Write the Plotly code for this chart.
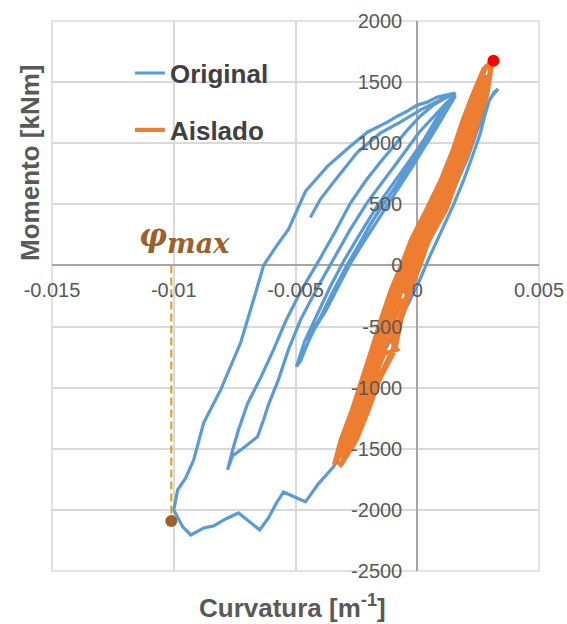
import plotly.graph_objects as go

# ---------------- data ----------------
original_curv = [
    0.00000, 0.00033, 0.00078, 0.00123, 0.00168, 0.00205, 0.00234, 0.00258, 0.00279, 0.00303, 0.00332,
    0.00316, 0.00295, 0.00279, 0.00258, 0.00225, 0.00189, 0.00148, 0.00102, 0.00053, 0.00004,
    -0.00049, -0.00098, -0.00143, -0.00184, -0.00221, -0.00250, -0.00283, -0.00316, -0.00344,
    -0.00406, -0.00459, -0.00504, -0.00549, -0.00578, -0.00611, -0.00647, -0.00684, -0.00734,
    -0.00787, -0.00836, -0.00877, -0.00930, -0.00963, -0.01000,
    -0.00984, -0.00951, -0.00918, -0.00877, -0.00807, -0.00725, -0.00672, -0.00631, -0.00582,
    -0.00529, -0.00459, -0.00369, -0.00275, -0.00205, -0.00123, -0.00082, -0.00041, 0.00000,
    0.00041, 0.00082, 0.00156,
    0.00127, 0.00094, 0.00041, -0.00029, -0.00111, -0.00193, -0.00250, -0.00295, -0.00344,
    -0.00398, -0.00455,
    -0.00434, -0.00377, -0.00324, -0.00279, -0.00234, -0.00172, -0.00094, -0.00016, 0.00053,
    0.00107, 0.00156,
    0.00119, 0.00078, 0.00029, -0.00037, -0.00160, -0.00234, -0.00303, -0.00357, -0.00414,
    -0.00463, -0.00496,
    -0.00479, -0.00447, -0.00398, -0.00344, -0.00287, -0.00217, -0.00148, -0.00029, 0.00045,
    0.00098, 0.00156,
    0.00119, 0.00066, 0.00008, -0.00082, -0.00205, -0.00275, -0.00340, -0.00414, -0.00479,
    -0.00529, -0.00570, -0.00611, -0.00631, -0.00656, -0.00713, -0.00758, -0.00779,
    -0.00770, -0.00758, -0.00734, -0.00697, -0.00643, -0.00590, -0.00541, -0.00479, -0.00406,
    -0.00336, -0.00275, -0.00213, -0.00152, -0.00090, -0.00041, 0.00012, 0.00066, 0.00115, 0.00156,
    0.00094, 0.00012, -0.00070, -0.00152, -0.00246, -0.00344, -0.00398, -0.00439,
]
original_mom = [
    -16, 131, 311, 500, 705, 869, 1033, 1180, 1295, 1377, 1443,
    1418, 1344, 1238, 1074, 885, 689, 492, 295, 82, -148,
    -361, -549, -738, -918, -1098, -1262, -1426, -1557, -1648,
    -1787, -1934, -1894, -1853, -1943, -2066, -2164, -2107, -2025,
    -2074, -2131, -2148, -2205, -2139, -2000,
    -1836, -1738, -1590, -1287, -1016, -631, -279, 0, 148,
    295, 607, 811, 975, 1090, 1172, 1221, 1262, 1312,
    1336, 1377, 1410,
    1328, 1230, 1049, 828, 582, 336, 131, -33, -221,
    -426, -607,
    -557, -377, -172, 0, 148, 344, 582, 820, 1041,
    1221, 1385,
    1312, 1197, 1033, 844, 500, 262, 33, -172, -410,
    -623, -828,
    -779, -623, -418, -205, 8, 246, 484, 803, 1016,
    1189, 1394,
    1328, 1213, 1090, 844, 516, 295, 66, -197, -443,
    -689, -934, -1139, -1262, -1402, -1492, -1557, -1672,
    -1590, -1508, -1344, -1131, -918, -689, -459, -213, 33,
    279, 508, 689, 844, 992, 1107, 1221, 1312, 1369, 1402,
    1353, 1271, 1172, 1082, 926, 680, 541, 393,
]

aislado_curv = [
    # up
    -0.00342, -0.00314, -0.00268, -0.00226, -0.00188, -0.00150, -0.00108, -0.00066, -0.00025,
    0.00038, 0.00098, 0.00147, 0.00188, 0.00228, 0.00272, 0.00305,
    # down
    0.00303, 0.00281, 0.00247, 0.00206, 0.00157, 0.00111, 0.00041, 0.00003, -0.00036,
    -0.00074, -0.00101, -0.00162, -0.00207, -0.00256, -0.00315,
    # up
    -0.00330, -0.00289, -0.00241, -0.00198, -0.00150, -0.00117, -0.00076, -0.00036, 0.00004,
    0.00070, 0.00124, 0.00173, 0.00214, 0.00251, 0.00282,
    # down (jagged)
    0.00272, 0.00268, 0.00232, 0.00191, 0.00142, 0.00093, 0.00024, -0.00014, -0.00053,
    -0.00038, -0.00070, -0.00093, -0.00105, -0.00082, -0.00135, -0.00178, -0.00222, -0.00271,
    -0.00318,
    # up
    -0.00322, -0.00300, -0.00253, -0.00210, -0.00166, -0.00131, -0.00090, -0.00049, -0.00009,
    0.00056, 0.00113, 0.00162, 0.00203, 0.00242, 0.00279, 0.00300,
    # down
    0.00305, 0.00288, 0.00254, 0.00213, 0.00164, 0.00120, 0.00049, 0.00012, -0.00027,
    -0.00065, -0.00090, -0.00154, -0.00199, -0.00249, -0.00312,
    # up
    -0.00282, -0.00230, -0.00186, -0.00134, -0.00103, -0.00063, -0.00023, 0.00016,
    0.00084, 0.00135, 0.00184, 0.00225, 0.00265,
    # down
    0.00235, 0.00195, 0.00154, 0.00105, 0.00047, -0.00017, -0.00057, -0.00099,
    -0.00141, -0.00177, -0.00218, -0.00260, -0.00307, -0.00338,
]
aislado_mom = [
    -1631, -1426, -1180, -934, -689, -443, -197, 0, 213,
    459, 705, 951, 1197, 1402, 1607, 1672,
    1640, 1402, 1197, 951, 705, 459, 213, 0, -197,
    -443, -689, -934, -1180, -1426, -1631,
    -1600, -1426, -1180, -934, -689, -443, -197, 0, 213,
    459, 705, 951, 1197, 1402, 1560,
    1500, 1402, 1197, 951, 705, 459, 213, 0, -197,
    -260, -300, -443, -620, -689, -720, -934, -1180, -1426,
    -1560,
    -1520, -1426, -1180, -934, -689, -443, -197, 0, 213,
    459, 705, 951, 1197, 1402, 1607, 1655,
    1620, 1402, 1197, 951, 705, 459, 213, 0, -197,
    -443, -689, -934, -1180, -1426, -1631,
    -1450, -1180, -934, -689, -443, -197, 0, 213,
    459, 705, 951, 1197, 1450,
    1402, 1197, 951, 705, 459, 213, 0, -197,
    -443, -689, -934, -1180, -1426, -1600,
]

phi_max_curv = [-0.0101]
phi_max_mom = [-2090]
peak_aislado_curv = [0.00313]
peak_aislado_mom = [1675]

x_tickvals = [-0.015, -0.01, -0.005, 0, 0.005]
x_ticktext = ["-0.015", "-0.01", "-0.005", "0", "0.005"]
y_tickvals = [-2500, -2000, -1500, -1000, -500, 0, 500, 1000, 1500, 2000]
y_ticktext = ["-2500", "-2000", "-1500", "-1000", "-500", "0", "500", "1000", "1500", "2000"]

BLUE = "#5B9BD5"
ORANGE = "#ED7D31"
GRID = "#d9d9d9"
TXT = "#595959"
FONT = "Liberation Sans"

fig = go.Figure()

fig.add_trace(go.Scatter(
    x=original_curv, y=original_mom, mode="lines", name="Original",
    line=dict(color=BLUE, width=3.2), legendgroup="a",
))
fig.add_trace(go.Scatter(
    x=aislado_curv, y=aislado_mom, mode="lines", name="Aislado",
    line=dict(color=ORANGE, width=4.2), legendgroup="b",
))
# phi_max dashed guide
fig.add_trace(go.Scatter(
    x=[phi_max_curv[0], phi_max_curv[0]], y=[0, phi_max_mom[0]], mode="lines",
    line=dict(color="#D4A017", width=2, dash="8px,4px"), showlegend=False, hoverinfo="skip",
))
fig.add_trace(go.Scatter(
    x=phi_max_curv, y=phi_max_mom, mode="markers",
    marker=dict(color="#9c5f2e", size=12), showlegend=False,
))
fig.add_trace(go.Scatter(
    x=peak_aislado_curv, y=peak_aislado_mom, mode="markers",
    marker=dict(color="#ff0000", size=12), showlegend=False,
))

fig.update_layout(
    width=567, height=624,
    margin=dict(l=52, r=28, t=21, b=53),
    paper_bgcolor="white", plot_bgcolor="white",
    font=dict(family=FONT, color=TXT),
    showlegend=True,
    legend=dict(
        x=0.16, y=0.948, xanchor="left", yanchor="top",
        bgcolor="rgba(0,0,0,0)", borderwidth=0,
        font=dict(family=FONT, size=26, color="#404040", weight="bold"),
        traceorder="grouped", tracegroupgap=20,
    ),
    xaxis=dict(
        range=[-0.015, 0.005], tickvals=x_tickvals, ticktext=x_ticktext,
        showgrid=True, gridcolor=GRID, gridwidth=1.5,
        zeroline=True, zerolinecolor="#a6a6a6", zerolinewidth=1.5,
        showline=False, ticks="", anchor="free", position=2500 / 4500,
        automargin=False,
        tickfont=dict(family=FONT, size=20, color=TXT), ticklabelstandoff=11,
    ),
    yaxis=dict(
        range=[-2500, 2000], tickvals=y_tickvals, ticktext=y_ticktext,
        showgrid=True, gridcolor=GRID, gridwidth=1.5,
        zeroline=True, zerolinecolor="#a6a6a6", zerolinewidth=1.5,
        showline=False, ticks="", anchor="free", position=0.75,
        automargin=False,
        tickfont=dict(family=FONT, size=20, color=TXT), ticklabelstandoff=15,
    ),
    shapes=[
        dict(type="rect", xref="paper", yref="paper", x0=0, y0=0, x1=1, y1=1,
             line=dict(color=GRID, width=1.5), fillcolor="rgba(0,0,0,0)", layer="below"),
    ],
    annotations=[
        dict(text="<b>Momento [kNm]</b>", xref="paper", yref="paper",
             x=-0.045, y=0.742, textangle=-90, showarrow=False,
             xanchor="center", yanchor="middle",
             font=dict(family=FONT, size=26, color=TXT)),
        dict(text="<b>Curvatura [m<sup>-1</sup>]</b>", xref="paper", yref="paper",
             x=0.493, y=-0.065, showarrow=False, xanchor="center", yanchor="middle",
             font=dict(family=FONT, size=26, color=TXT)),
        dict(text="<b><i>φ</i></b><sub><span style='font-size:27px'><b><i>max</i></b></span></sub>",
             xref="x", yref="y",
             x=-0.00955, y=225, showarrow=False, xanchor="center", yanchor="middle",
             font=dict(family="DejaVu Serif", size=31, color="#9c5f2e")),
    ],
)

fig.write_html("out.html")
